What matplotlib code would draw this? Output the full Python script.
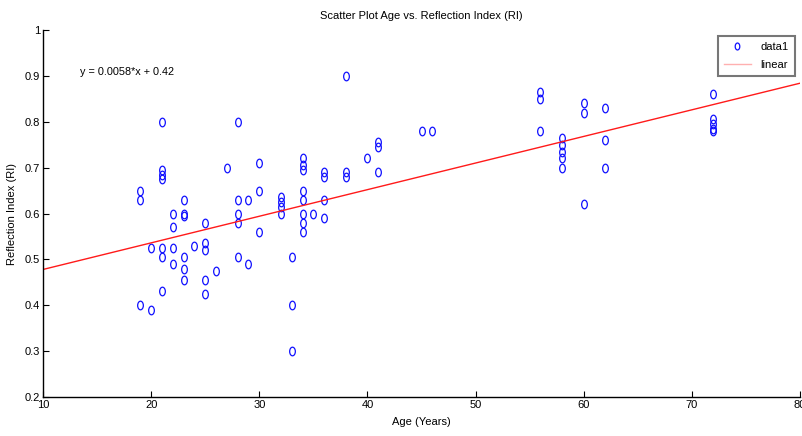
import numpy as np
import matplotlib
matplotlib.use('Agg')
import matplotlib.pyplot as plt
from matplotlib.path import Path
from matplotlib.transforms import Affine2D

plt.rcParams.update({'font.family': ['Liberation Sans Narrow', 'Liberation Sans', 'DejaVu Sans'],
                     'font.size': 8})

# age (years) and reflection index, read column by column
age = ([19]*3 + [20]*2 + [21]*7 + [22]*4 + [23]*6 + [24] + [25]*5 + [26] + [27] + [28]*5 +
       [29]*2 + [30]*3 + [32]*4 + [33]*3 + [34]*8 + [35] + [36]*4 + [38]*3 + [40] + [41]*3 +
       [45] + [46] + [56]*3 + [58]*5 + [60]*3 + [62]*3 + [72]*5)
ri = [0.65, 0.63, 0.40,
      0.525, 0.39,
      0.80, 0.695, 0.685, 0.675, 0.525, 0.505, 0.43,
      0.60, 0.57, 0.525, 0.49,
      0.63, 0.60, 0.595, 0.505, 0.48, 0.455,
      0.53,
      0.58, 0.535, 0.52, 0.455, 0.425,
      0.475,
      0.70,
      0.80, 0.63, 0.60, 0.58, 0.505,
      0.63, 0.49,
      0.71, 0.65, 0.56,
      0.635, 0.625, 0.615, 0.60,
      0.505, 0.40, 0.30,
      0.72, 0.705, 0.695, 0.65, 0.63, 0.60, 0.58, 0.56,
      0.60,
      0.69, 0.68, 0.63, 0.59,
      0.90, 0.69, 0.68,
      0.72,
      0.755, 0.745, 0.69,
      0.78,
      0.78,
      0.865, 0.85, 0.78,
      0.765, 0.75, 0.735, 0.72, 0.70,
      0.84, 0.82, 0.62,
      0.83, 0.76, 0.70,
      0.86, 0.805, 0.795, 0.785, 0.78]

slope, intercept = 0.0058, 0.42
xticks = [10, 20, 30, 40, 50, 60, 70, 80]
yticks = [0.2, 0.3, 0.4, 0.5, 0.6, 0.7, 0.8, 0.9, 1]
yticklabels = ['0.2', '0.3', '0.4', '0.5', '0.6', '0.7', '0.8', '0.9', '1']

# tall ellipse marker (the original image is squeezed sideways)
oval = Path.unit_circle().transformed(Affine2D().scale(0.66, 1.0))

fig = plt.figure(figsize=(8.02, 4.36), dpi=100)
ax = fig.add_axes([43/802, 1-397/436, (800-43)/802, (397-30)/436])

ax.plot(age, ri, ls='none', marker=oval, ms=6.2, mfc='none', mec='#1010ff', mew=0.9, label='data1')
xl = np.array([10, 80])
ax.plot(xl, slope*xl + intercept, color='#ff1a1a', lw=1.0, label='linear')

ax.set_xlim(10, 80); ax.set_ylim(0.2, 1)
ax.set_xticks(xticks); ax.set_yticks(yticks); ax.set_yticklabels(yticklabels)
ax.tick_params(direction='in', length=4, width=0.8, labelsize=8, pad=2)
for s in ['top', 'right']: ax.spines[s].set_visible(False)
for s in ['left', 'bottom']: ax.spines[s].set_linewidth(1.0)

ax.set_title('Scatter Plot Age vs. Reflection Index (RI)', fontsize=8, pad=8)
ax.set_xlabel('Age (Years)', fontsize=8, labelpad=5)
ax.set_ylabel('Reflection Index (RI)', fontsize=8, labelpad=6)
ax.text(13.4, 0.908, 'y = 0.0058*x + 0.42', fontsize=7.8, va='center', ha='left')

leg = ax.legend(loc='upper right', bbox_to_anchor=(0.996, 0.99), fontsize=8, frameon=True,
                fancybox=False, edgecolor='#555555', handlelength=2.4, borderpad=0.55,
                labelspacing=0.7, handletextpad=0.9, borderaxespad=0.2)
leg.get_frame().set_linewidth(1.5)
leg.legend_handles[0].set_markersize(5)
leg.legend_handles[1].set_color('#ffb0b0')

fig.savefig('out.png', dpi=100)
